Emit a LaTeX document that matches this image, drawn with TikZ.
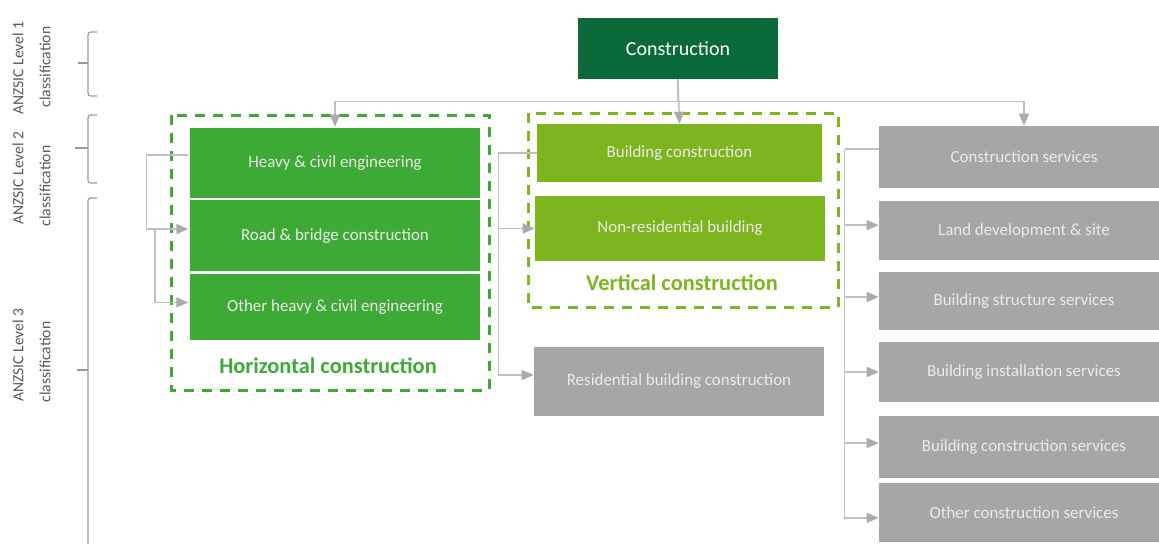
\documentclass[tikz,border=0pt]{standalone}
\usepackage{fontspec}
\setmainfont{Carlito}
\usepackage{xcolor}
\definecolor{colorTop}{HTML}{0B6A3A}
\definecolor{colorHoriz}{HTML}{3DAA35}
\definecolor{colorVert}{HTML}{7CB51E}
\definecolor{colorServ}{HTML}{A6A6A6}
\definecolor{colorLink}{HTML}{BFBFBF}
\definecolor{colorTip}{HTML}{ABABAB}
\definecolor{colorSide}{HTML}{595959}
\usepackage{tikz}
\usetikzlibrary{arrows.meta, positioning}
\tikzset{
  box/.style={rectangle, inner sep=0pt, text=white!92!black, font=\fontsize{12.7}{15}\selectfont},
  topbox/.style={box, fill=colorTop, minimum width=150pt, minimum height=45.75pt, text=white, font=\fontsize{15}{18}\selectfont},
  horizbox/.style={box, fill=colorHoriz, draw=white, line width=1pt, minimum width=219pt},
  vertbox/.style={box, fill=colorVert, minimum width=217.5pt},
  servbox/.style={box, fill=colorServ, minimum width=217.5pt},
  group/.style={dash pattern=on 7.5pt off 6pt, line width=2.25pt},
  grouplabel/.style={font=\bfseries\fontsize{16.8}{20}\selectfont},
  link/.style={draw=colorLink, line width=1.1pt, -{Triangle[length=9pt, width=7.5pt, color=colorTip]}},
  brace/.style={draw=colorLink!80!black, line width=0.8pt, rounded corners=2pt},
  sidelabel/.style={rotate=90, text=colorSide, font=\fontsize{11.7}{14}\selectfont},
}

\begin{document}
\begin{tikzpicture}[x=0.75pt, y=-0.75pt]
\useasboundingbox (0,0) rectangle (1159,543);
% level 1
\node[topbox] (c0) at (678,48.5) {Construction};
% horizontal construction
\node[horizbox, minimum height=53.25pt] (h1) at (335,162.75) {Heavy \& civil engineering};
\node[horizbox, minimum height=54pt, below=0pt of h1] (h2) {Road \& bridge construction};
\node[horizbox, minimum height=50.6pt, below=0pt of h2] (h3) {Other heavy \& civil engineering};
\draw[colorHoriz, group] (171,115) rectangle (489,390);
\node[grouplabel, text=colorHoriz] (hl) at (328,366) {Horizontal construction};
% vertical construction
\node[vertbox, minimum width=213.75pt, minimum height=43.5pt] (v1) at (679.5,153) {Building construction};
\node[vertbox, minimum height=48.75pt] (v2) at (680,228.5) {Non-residential building};
\node[servbox, minimum height=51.75pt] (v3) at (679,381.5) {Residential building construction};
\draw[colorVert, group] (528,113) rectangle (838,307);
\node[grouplabel, text=colorVert] (vl) at (682,283) {Vertical construction};
% services
\node[servbox, minimum height=46.5pt] (s1) at (1024,157) {Construction services};
\node[servbox, minimum height=44.25pt] (s2) at (1024,230.5) {Land development \& site};
\node[servbox, minimum height=43.5pt] (s3) at (1024,301) {Building structure services};
\node[servbox, minimum height=45pt] (s4) at (1024,372) {Building installation services};
\node[servbox, minimum height=46.5pt] (s5) at (1024,447) {Building construction services};
\node[servbox, minimum height=44.25pt] (s6) at (1024,512.5) {Other construction services};
% links from the top
\draw[link] (c0.south) -- (v1.north);
\draw[link] (c0.south) -- ++(0,22) -| (h1.north);
\draw[link] (c0.south) -- ++(0,22) -| (s1.north);
% links inside the columns
\draw[link] ([yshift=5.8pt]h1.west) -- ++(-42,0) |- ([yshift=4.9pt]h2.west);
\draw[link] ([xshift=-25pt, yshift=4.9pt]h2.west) |- ([yshift=3.2pt]h3.west);
\draw[link] (v1.west) -- ++(-38,0) |- (v2.west);
\draw[link] ([xshift=-27pt]v2.west) |- ([yshift=4.9pt]v3.west);
\draw[draw=colorLink, line width=1.1pt] ([yshift=6pt]s1.west) -- ++(-34,0) coordinate (rail);
\foreach \n/\dy in {s2/4, s3/3, s4/0, s5/3, s6/-4}
  \draw[link] (rail) |- ([yshift=\dy pt]\n.west);
% side brackets
\draw[brace] (97,32) -- (88,32) -- (88,96) -- (97,96);
\draw[brace] (88,63) -- (78,63);
\draw[brace] (97,115) -- (88,115) -- (88,183) -- (97,183);
\draw[brace] (88,148) -- (75,148);
\draw[brace] (97,198) -- (88,198) -- (88,550);
\draw[brace] (88,370) -- (77,370);
\node[sidelabel] (a1) at (18,68) {ANZSIC Level 1};
\node[sidelabel] (b1) at (45,67) {classification};
\node[sidelabel] (a2) at (18,178) {ANZSIC Level 2};
\node[sidelabel] (b2) at (45,186) {classification};
\node[sidelabel] (a3) at (18,355) {ANZSIC Level 3};
\node[sidelabel] (b3) at (45,362) {classification};
\end{tikzpicture}
\end{document}
